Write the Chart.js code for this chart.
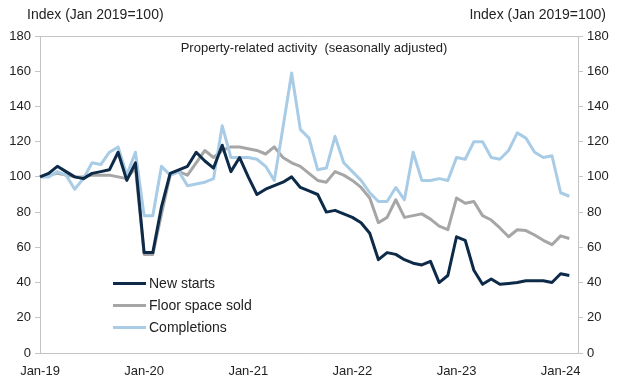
<!DOCTYPE html>
<html>
<head>
<meta charset="utf-8">
<script src="https://cdn.jsdelivr.net/npm/chart.js@4.4.1/dist/chart.umd.min.js"></script>
<style>
  body { margin: 0; background: #fff; }
  #wrap { position: relative; width: 620px; height: 384px; font-family: "Liberation Sans", Arial, sans-serif; color: #222; }
  .hdr { position: absolute; top: 6px; font-size: 14px; white-space: nowrap; }
  #inner { position: absolute; top: 40px; left: 0; width: 620px; text-align: center; font-size: 13px; padding-left: 8px; box-sizing: border-box; }
  .leg { position: absolute; left: 113px; font-size: 14px; white-space: nowrap; }
  .leg span { display: inline-block; width: 33px; height: 3px; vertical-align: middle; margin-right: 3px; margin-top: -2px; }
</style>
</head>
<body>
<div id="wrap">
  <canvas id="chart" width="620" height="384"></canvas>
  <div class="hdr" style="left:27px">Index (Jan 2019=100)</div>
  <div class="hdr" style="right:14px">Index (Jan 2019=100)</div>
  <div id="inner">Property-related activity&nbsp; (seasonally adjusted)</div>
  <div class="leg" style="top:275px"><span style="background:#0d2b48"></span>New starts</div>
  <div class="leg" style="top:297px"><span style="background:#a6a6a6"></span>Floor space sold</div>
  <div class="leg" style="top:319px"><span style="background:#a9cce6"></span>Completions</div>
</div>
<script>
// monthly, Jan-19 .. Mar-24 (last month has no data yet)
const years = ["19", "20", "21", "22", "23", "24"];
const monthNames = ["Jan", "Feb", "Mar", "Apr", "May", "Jun", "Jul", "Aug", "Sep", "Oct", "Nov", "Dec"];
const months = [];
years.forEach(y => monthNames.forEach(m => months.push(m + "-" + y)));
months.length = 63;

const newStarts = [100, 102, 106, 103, 100, 99, 102, 103, 104, 114, 98, 108,
  57, 57, 83, 102, 104, 106, 114, 109, 105, 118, 103, 111,
  100, 90, 93, 95, 97, 100, 94, 92, 90, 80, 81, 79,
  77, 74, 68, 53, 57, 56, 53, 51, 50, 52, 40, 44,
  66, 64, 47, 39, 42, 39, 39.5, 40, 41, 41, 41, 40,
  45, 44];

const floorSpace = [100, 101, 102, 101, 100, 100, 101, 101, 101, 100, 99, 105,
  56, 56, 79, 101, 103, 101, 108, 115, 111, 115, 117, 117,
  116, 115, 113, 117, 111, 108, 106, 102, 98, 97, 103, 101,
  98, 94, 88, 74, 77, 87, 77, 78, 79, 76, 72, 70,
  88, 85, 86, 78, 75.5, 71, 66, 70, 69.5, 67, 64, 61.5,
  66.5, 65];

const completions = [100, 100, 103, 101, 93, 99, 108, 107, 114, 117, 101, 114,
  78, 78, 106, 101, 103, 95, 96, 97, 99, 129, 111, 111,
  111, 110, 106, 98, 128, 159, 127, 122, 104, 105, 123, 108,
  103, 98, 91, 86, 86, 94, 87, 114, 98, 98, 99, 98,
  111, 110, 120, 120, 111, 110, 115, 125, 122, 114, 111, 112,
  91, 89];

const yTicks = [0, 20, 40, 60, 80, 100, 120, 140, 160, 180];

const axisGrey = "#c4c4c4";
const tickFont = { family: "Liberation Sans", size: 13 };

function yScale(pos, width) {
  return {
    position: pos,
    min: yTicks[0],
    max: yTicks[yTicks.length - 1],
    ticks: { stepSize: 20, padding: 4, color: "#222", font: tickFont },
    grid: {
      drawOnChartArea: pos === "left",
      color: c => (c.tick && c.tick.value === 180 ? axisGrey : "rgba(0,0,0,0)"),
      tickColor: axisGrey,
      tickLength: 5
    },
    border: { display: true, color: axisGrey },
    afterFit: s => { s.width = width; }
  };
}

new Chart(document.getElementById("chart"), {
  type: "line",
  data: {
    labels: months,
    datasets: [
      { label: "New starts", data: newStarts, borderColor: "#0d2b48", order: 0 },
      { label: "Completions", data: completions, borderColor: "#a9cce6", order: 1 },
      { label: "Floor space sold", data: floorSpace, borderColor: "#a6a6a6", order: 2 }
    ]
  },
  options: {
    responsive: false,
    animation: false,
    layout: { padding: { top: 36 } },
    elements: {
      point: { radius: 0 },
      line: { borderWidth: 3, tension: 0, borderJoinStyle: "round" }
    },
    plugins: { legend: { display: false }, tooltip: { enabled: false } },
    scales: {
      x: {
        offset: false,
        grid: { display: false },
        border: { display: true, color: axisGrey },
        ticks: {
          autoSkip: false, maxRotation: 0, padding: 3, color: "#222", font: tickFont,
          callback: (v, i) => (i % 12 === 0 ? months[i] : "")
        },
        afterFit: s => { s.height = 31; }
      },
      y: yScale("left", 40),
      y2: yScale("right", 42)
    }
  }
});
</script>
</body>
</html>
